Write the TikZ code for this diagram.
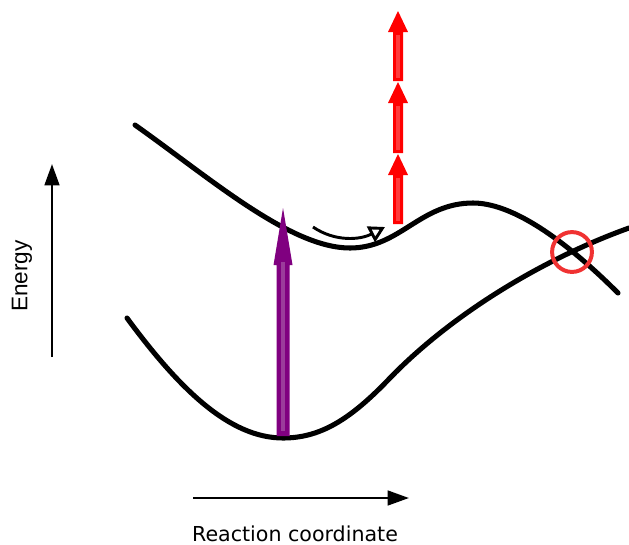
\documentclass[tikz,border=0pt]{standalone}
\usepackage{fontspec}
\setmainfont{Liberation Sans}
\newfontfamily\labelfont{DejaVu Sans}
\usetikzlibrary{arrows.meta}

\definecolor{excite}{RGB}{128,0,128}
\definecolor{exciteinner}{RGB}{155,60,155}
\definecolor{hot}{RGB}{255,0,0}
\definecolor{hotinner}{RGB}{255,60,60}
\definecolor{crossing}{RGB}{240,50,50}

% block arrow pointing up: x, base y, tip y, shaft half width, head half width, head length
\newcommand\blockup[7][]{%
  \fill[#1] (#2-#5,#3) -- (#2-#5,#4+#7) -- (#2-#6,#4+#7) -- (#2,#4)
    -- (#2+#6,#4+#7) -- (#2+#5,#4+#7) -- (#2+#5,#3) -- cycle;}

\begin{document}
\begin{tikzpicture}[x=0.02646cm, y=-0.02646cm,
  pes/.style={line width=3.8pt, line cap=round, line join=round},
  axis/.style={line width=1.9pt, -{Triangle[length=16pt, width=11pt]}}
]
\useasboundingbox (0,0) rectangle (629,544);

% potential energy curves
\draw[pes] (135,125) .. controls (210,178) and (290,248) .. (350,248)
           .. controls (400,248) and (420,203) .. (473,203)
           .. controls (520,203) and (580,255) .. (618,293);
\draw[pes] (127,318) .. controls (180,390) and (230,438) .. (283,438)
           .. controls (320,438) and (350,420) .. (390,378)
           .. controls (450,316) and (540,260) .. (629,228);

% vertical excitation
\coordinate (gs) at (283,436);
\coordinate (fc) at (283,208);
\blockup[excite]{283}{436}{208}{6.5}{9.5}{57}
\draw[exciteinner, line width=3.5pt] (283,431) -- (283,262);

% vibrational energy
\foreach \a/\b in {224/154, 153/82, 81/11}{
  \blockup[hot]{398}{\a}{\b}{5}{10}{21}
  \draw[hotinner, line width=2.5pt] (398,\a-3) -- (398,\b+24);
}

% relaxation
\coordinate (r0) at (313,227);
\coordinate (r1) at (385,227);
\draw[line width=2.2pt, -{Triangle[open, length=12pt, width=13pt]}]
  (r0) .. controls (335,242) and (360,240) .. (r1);

% crossing point
\node[draw=crossing, line width=3pt, circle, minimum size=30pt,
      inner sep=0pt] (cross) at (572,252) {};

% axes
\coordinate (e0) at (52,357);
\coordinate (e1) at (52,164);
\draw[axis] (e0) -- (e1);
\node[rotate=90, font=\fontsize{17}{20}\selectfont] (energy) at (22,276) {Energy};

\coordinate (x0) at (193,498);
\coordinate (x1) at (409,498);
\draw[axis] (x0) -- (x1);
\node[anchor=base, inner sep=0pt, font=\labelfont\fontsize{15.5}{18}\selectfont]
  (rc) at (295,541) {Reaction coordinate};
\end{tikzpicture}
\end{document}
